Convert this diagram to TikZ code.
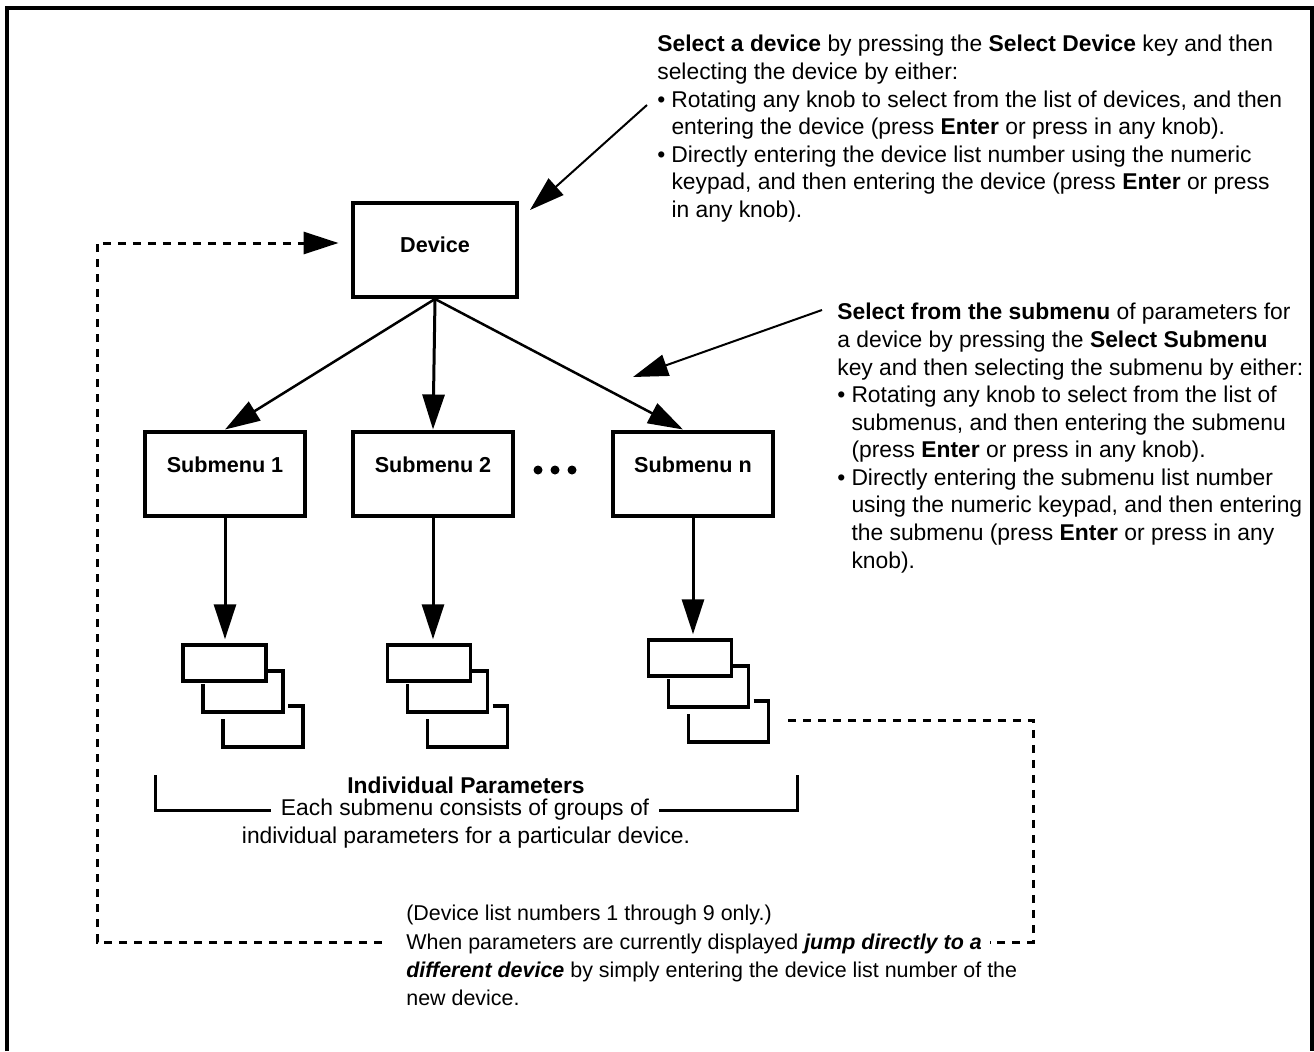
\documentclass[tikz,border=0pt]{standalone}
\usepackage{fontspec}
\setmainfont{Liberation Sans}
\usetikzlibrary{arrows.meta}

\newcommand\itm{\makebox[0.62em][l]{\textbullet}}
\newcommand\ind{\hspace*{0.62em}}

\begin{document}
\begin{tikzpicture}[x=0.02cm, y=-0.02cm,
        big/.style={-{Triangle[length=0.7cm,width=0.44cm]}},
        note/.style={font=\fontsize{13}{15.7}\selectfont, align=left, inner sep=0pt, anchor=north west},
        parbox/.style={draw, line width=0.07cm, minimum width=1.66cm, minimum height=0.72cm, inner sep=0pt},
        stackline/.style={line width=0.07cm},
        jump/.style={line width=0.06cm, dash pattern=on 0.16cm off 0.14cm}]
                \useasboundingbox (0,0) rectangle (1314,1051);
                \draw[line width=0.08cm] (7,1051) |- (1312,8) -- (1312,1051);
                \begin{scope}[every node/.style={draw, line width=0.08cm, minimum width=3.2cm, minimum height=1.7cm, text depth=0.36cm, font=\fontsize{12.3}{14}\selectfont\bfseries}]
                        \node[minimum width=3.3cm, minimum height=1.88cm, text depth=0.2cm] (dev) at (435,250) {Device};
                        \node (sub1) at (225,474) {Submenu 1};
                        \node (sub2) at (433,474) {Submenu 2};
                        \node (subn) at (693,474) {Submenu n};
                \end{scope}
                \foreach \dx in {538,555,572}
                        \fill (\dx,470) circle (0.09cm);
                \begin{scope}[every path/.style={big, line width=0.05cm}]
                        \path (dev.south) edge (sub1.north);
                        \path (dev.south) edge[line width=0.06cm] (sub2.north);
                        \path (dev.south) edge ([xshift=-0.2cm]subn.north);
                \end{scope}
                \foreach \s/\cx/\cy in {1/224.5/663, 2/429/663, n/690/658} {
                        \begin{scope}[shift={(\cx,\cy)}]
                                \node[parbox] (par\s) at (0,0) {};
                                \draw[stackline] (41.5,8) -| (58.5,49) -| (-21.5,21);
                                \draw[stackline] (63.5,43) -| (78.5,84) -| (-1.5,56);
                        \end{scope}
                        \path[big, line width=0.06cm] (sub\s.south) edge ([yshift=0.08cm]sub\s.south |- par\s.north);
                }
                \begin{scope}[every node/.style={font=\fontsize{13}{15.7}\selectfont}]
                        \node[font=\fontsize{13}{15.7}\selectfont\bfseries] (partitle) at (466,785) {Individual Parameters};
                        \node[inner xsep=0.2cm, inner ysep=0pt] (parline1) at (465,810) {Each submenu consists of groups of};
                        \node (parline2) at (466,838) {individual parameters for a particular device.};
                \end{scope}
                \draw[line width=0.06cm] (parline1.west) -| (155,775);
                \draw[line width=0.06cm] (parline1.east) -| (797,775);
                \coordinate (jstart) at (788,720);
                \coordinate (jcorner) at (1033,942);
                \coordinate (jmidR) at (990,942);
                \coordinate (jmidL) at (382,942);
                \coordinate (jleft) at (97,942);
                \draw[jump] (jstart) -| (jcorner) -- (jmidR);
                \draw[jump, big, shorten >=0.24cm] (jmidL) -- (jleft) |- ([yshift=0.14cm]dev.west);
                \coordinate (devcall) at (647,105);
                \coordinate (devtip) at (530,210);
                \coordinate (subcall) at (822,310);
                \coordinate (subtip) at (633,377);
                \draw[big, line width=0.04cm] (devcall) -- (devtip);
                \draw[big, line width=0.04cm] (subcall) -- (subtip);
                \node[note] (selDev) at (657,35) {\textbf{Select a device} by pressing the \textbf{Select Device} key and then\\
                        selecting the device by either:\\
                        \itm Rotating any knob to select from the list of devices, and then\\
                        \ind entering the device (press \textbf{Enter} or press in any knob).\\
                        \itm Directly entering the device list number using the numeric\\
                        \ind keypad, and then entering the device (press \textbf{Enter} or press\\
                        \ind in any knob).};
                \node[note] (selSub) at (837,303) {\textbf{Select from the submenu} of parameters for\\
                        a device by pressing the \textbf{Select Submenu}\\
                        key and then selecting the submenu by either:\\
                        \itm Rotating any knob to select from the list of\\
                        \ind submenus, and then entering the submenu\\
                        \ind (press \textbf{Enter} or press in any knob).\\
                        \itm Directly entering the submenu list number\\
                        \ind using the numeric keypad, and then entering\\
                        \ind the submenu (press \textbf{Enter} or press in any\\
                        \ind knob).};
                \node[note, font=\fontsize{12.2}{16}\selectfont] (jumpNote) at (406,905) {(Device list numbers 1 through 9 only.)\\
                        When parameters are currently displayed \textbf{\textit{jump directly to a}}\\
                        \textbf{\textit{different device}} by simply entering the device list number of the\\
                        new device.};
\end{tikzpicture}
\end{document}
